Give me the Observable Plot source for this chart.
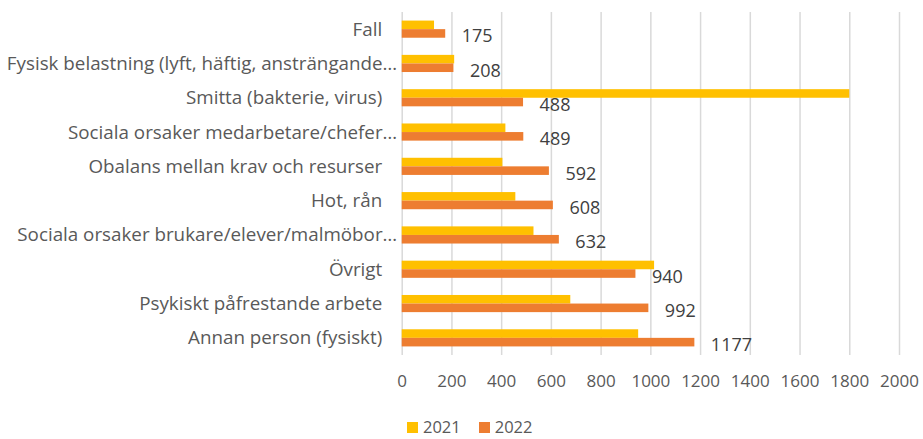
<!DOCTYPE html>
<html>
<head>
<meta charset="utf-8">
<script src="https://cdn.jsdelivr.net/npm/d3@7"></script>
<script src="https://cdn.jsdelivr.net/npm/@observablehq/plot@0.6"></script>
<style>
  html, body { margin: 0; padding: 0; background: #fff; }
  #wrap { position: relative; width: 923px; height: 439px; }
  #legend { position: absolute; left: 407px; top: 418px; height: 18px; display: flex; align-items: center;
            font-family: "Open Sans", sans-serif; font-size: 16.5px; line-height: 18px; color: #595959; }
  #legend span.sw { display: inline-block; width: 11px; height: 11px; margin-right: 5px; }
  #legend span.lab { margin-right: 18px; }
</style>
</head>
<body>
<div id="wrap"><div id="chart"></div><div id="legend"></div></div>
<script>
const categories = [
  "Fall",
  "Fysisk belastning (lyft, häftig, ansträngande…",
  "Smitta (bakterie, virus)",
  "Sociala orsaker medarbetare/chefer…",
  "Obalans mellan krav och resurser",
  "Hot, rån",
  "Sociala orsaker brukare/elever/malmöbor…",
  "Övrigt",
  "Psykiskt påfrestande arbete",
  "Annan person (fysiskt)"
];
const truncated = [
  "Fysisk belastning (lyft, häftig, ansträngande…",
  "Sociala orsaker medarbetare/chefer…",
  "Sociala orsaker brukare/elever/malmöbor…"
];
const series = ["2021", "2022"];
const values2021 = [130, 211, 1800, 417, 405, 457, 530, 1015, 678, 951];
const values2022 = [175, 208, 488, 489, 592, 608, 632, 940, 992, 1177];
const xTicks = [0, 200, 400, 600, 800, 1000, 1200, 1400, 1600, 1800, 2000];
const colors = ["#FFC000", "#ED7D31"];

const d2021 = categories.map((c, i) => ({category: c, value: values2021[i]}));
const d2022 = categories.map((c, i) => ({category: c, value: values2022[i]}));

const W = 923, H = 395, mT = 12, mB = 40;
const pInner = 0.5, pOuter = 0.25;
const step = (H - mT - mB) / (categories.length - pInner + 2 * pOuter);
const half = step * (1 - pInner) / 2;

const plot = Plot.plot({
  width: W, height: H,
  marginLeft: 401.7, marginRight: 24, marginTop: mT, marginBottom: mB,
  style: {fontFamily: "'Open Sans', sans-serif", fontSize: "17px", color: "#595959", background: "#fff"},
  x: {domain: [0, 2000], label: null},
  y: {domain: categories, paddingInner: pInner, paddingOuter: pOuter, round: false, label: null},
  marks: [
    Plot.gridX(xTicks, {stroke: "#d9d9d9", strokeOpacity: 1, strokeWidth: 1.5}),
    Plot.barX(d2021, {x: "value", y: "category", fill: colors[0], insetBottom: half}),
    Plot.barX(d2022, {x: "value", y: "category", fill: colors[1], insetTop: half}),
    Plot.text(d2022, {x: "value", y: "category", text: d => String(d.value), dx: 16, dy: 7,
      textAnchor: "start", fill: "#404040", fontSize: 18}),
    Plot.axisX(xTicks, {tickSize: 0, tickPadding: 19, tickFormat: d => String(d), fontSize: 17, label: null}),
    Plot.axisY(categories.filter(c => !truncated.includes(c)), {tickSize: 0, tickPadding: 20, fontSize: 18.8, label: null}),
    Plot.axisY(truncated, {tickSize: 0, tickPadding: 5, fontSize: 18.8, label: null})
  ]
});
document.getElementById("chart").appendChild(plot);

const legend = document.getElementById("legend");
series.forEach((s, i) => {
  const sw = document.createElement("span");
  sw.className = "sw"; sw.style.background = colors[i];
  const lab = document.createElement("span");
  lab.className = "lab"; lab.textContent = s;
  legend.appendChild(sw); legend.appendChild(lab);
});
</script>
</body>
</html>
